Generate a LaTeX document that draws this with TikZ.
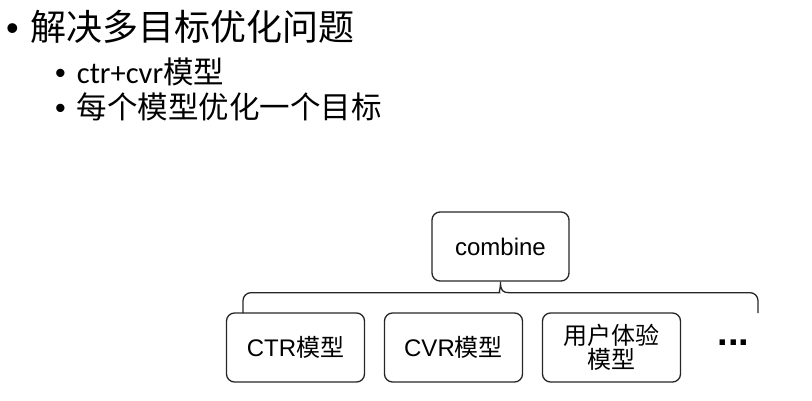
\documentclass[tikz,border=0pt]{standalone}
\usepackage{fontspec}
\setmainfont{Liberation Sans}
\newfontfamily\cjk{Noto Sans CJK SC}
\newfontfamily\latin{Carlito}
\usepackage{tikz}
\usetikzlibrary{positioning, calc}
\tikzstyle{model} = [rectangle, rounded corners=8pt, 
minimum width=138pt, 
minimum height=69pt, 
text centered, 
align=center, 
draw=black!85, 
line width=1.3pt, 
font=\fontsize{24}{24}\selectfont]
\tikzstyle{level1} = [anchor=west, inner sep=0pt, 
font=\fontsize{36}{40}\selectfont]
\tikzstyle{level2} = [anchor=west, inner sep=0pt, 
font=\fontsize{30.5}{34}\selectfont]
\tikzstyle{brace} = [draw=black!85, line width=1.3pt]

\begin{document}
\begin{tikzpicture}[x=1pt, y=1pt, node distance=158pt]
\useasboundingbox (0,0) rectangle (812,400);

% Text
\node (goal) [level1] at (6,373) {•\hspace{12pt}{\cjk 解决多目标优化问题}};
\node (line1) [level2] at (55,328) {•\hspace{11pt}{\latin ctr+cvr}{\cjk 模型}};
\node (line2) [level2] at (55,293) {•\hspace{11pt}{\cjk 每个模型优化一个目标}};

% Nodes
\node (combine) [model, minimum width=137pt] at (500.5,153.5) {combine};
\node (ctr) [model] at (295.5,52.5) {CTR{\cjk 模型}};
\node (cvr) [model, right of=ctr] {CVR{\cjk 模型}};
\node (user) [model, right of=cvr] {{\cjk 用户体验}\\{\cjk 模型}};
\node (more) [right of=user, node distance=122pt, yshift=4.5pt, font=\fontsize{38}{38}\selectfont\bfseries] {...};

\coordinate (braceL) at (243,87);
\coordinate (braceR) at (758,87);

% Brace
\draw [brace] (braceL) [rounded corners=8pt] |- ($(combine.south)+(-9,-11)$) [sharp corners] .. controls +(7,0) and +(0,-9) .. (combine.south) .. controls +(0,-9) and +(-7,0) .. ($(combine.south)+(9,-11)$) [rounded corners=8pt] -| (braceR);

\end{tikzpicture}
\end{document}
